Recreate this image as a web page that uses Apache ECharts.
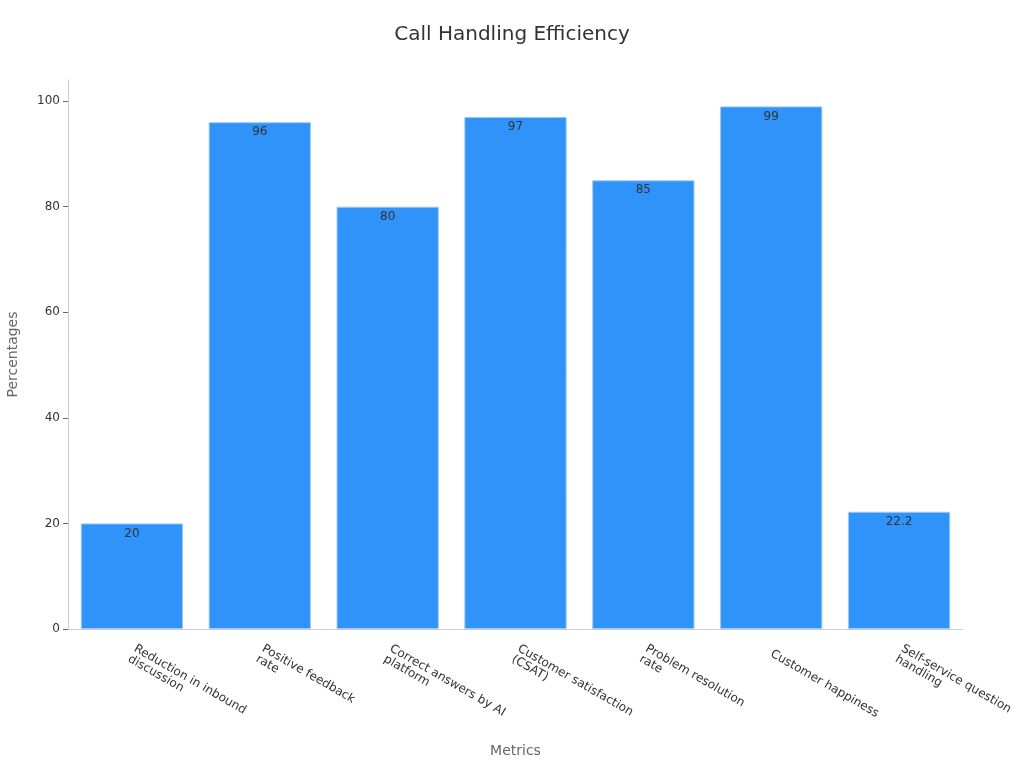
<!DOCTYPE html>
<html>
<head>
<meta charset="utf-8">
<script src="https://cdn.jsdelivr.net/npm/echarts@6/dist/echarts.min.js"></script>
<style>
  html, body { margin: 0; padding: 0; background: #fff; }
  #chart { width: 1024px; height: 768px; }
</style>
</head>
<body>
<div id="chart"></div>
<script>
const categories = [
  'Reduction in inbound\ndiscussion',
  'Positive feedback\nrate',
  'Correct answers by AI\nplatform',
  'Customer satisfaction\n(CSAT)',
  'Problem resolution\nrate',
  'Customer happiness',
  'Self-service question\nhandling'
];
const values = [20, 96, 80, 97, 85, 99, 22.2];
const yTicks = [0, 20, 40, 60, 80, 100];

const chart = echarts.init(document.getElementById('chart'));
chart.setOption({
  backgroundColor: '#fff',
  textStyle: { fontFamily: 'DejaVu Sans' },
  title: {
    text: 'Call Handling Efficiency',
    left: 'center',
    top: 20,
    textStyle: { fontSize: 20, fontWeight: 'normal', color: '#333' }
  },
  grid: { left: 68, right: 61, top: 80, bottom: 139, outerBoundsMode: 'none', containLabel: false },
  xAxis: {
    type: 'category',
    data: categories,
    name: 'Metrics',
    nameLocation: 'middle',
    nameGap: 115,
    nameTextStyle: { fontSize: 14, color: '#666' },
    axisLine: { lineStyle: { color: '#ccc' } },
    axisTick: { alignWithLabel: true, lineStyle: { color: '#666' } },
    axisLabel: { rotate: -30, color: '#333', fontSize: 12, interval: 0, margin: 24 }
  },
  yAxis: {
    type: 'value',
    min: 0,
    max: 104,
    interval: 20,
    name: 'Percentages',
    nameLocation: 'middle',
    nameGap: 48,
    nameTextStyle: { fontSize: 14, color: '#666' },
    axisLine: { show: true, lineStyle: { color: '#ccc' } },
    axisTick: { show: true, customValues: yTicks, lineStyle: { color: '#666' } },
    axisLabel: { color: '#333', fontSize: 12, customValues: yTicks },
    splitLine: { show: false }
  },
  series: [{
    type: 'bar',
    data: values,
    barWidth: '80%',
    itemStyle: { color: '#2f93fa', borderColor: '#9cc9f5', borderWidth: 1 },
    label: {
      show: true,
      position: 'insideTop',
      distance: 4,
      color: '#333',
      fontSize: 12
    }
  }]
});
</script>
</body>
</html>
